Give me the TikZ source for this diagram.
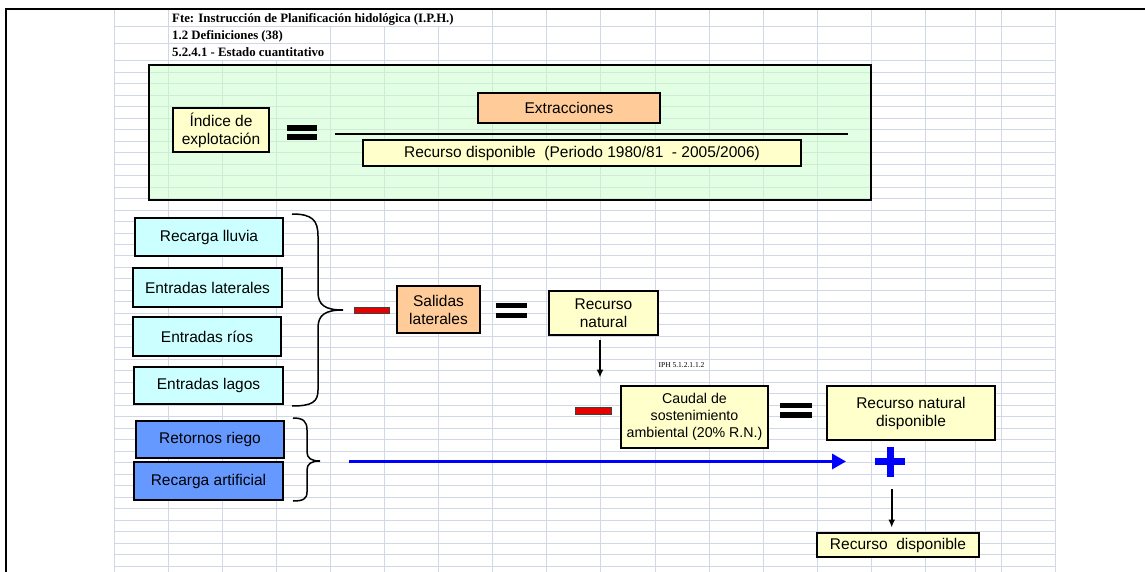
\documentclass[tikz,border=0pt]{standalone}
\usepackage{fontspec}
\setmainfont{Liberation Sans}
\newfontfamily\hdrfont{Liberation Serif}
\usetikzlibrary{arrows.meta}
\definecolor{gridc}{RGB}{208,215,229}
\definecolor{greenbg}{RGB}{204,255,204}
\definecolor{yel}{RGB}{255,255,204}
\definecolor{ora}{RGB}{255,204,153}
\definecolor{cya}{RGB}{204,255,255}
\definecolor{blu}{RGB}{102,153,255}
\definecolor{redm}{RGB}{230,0,0}
\definecolor{arrowblue}{RGB}{0,0,255}
\begin{document}
\begin{tikzpicture}[x=1pt,y=-1pt,
  gridline/.style={draw=gridc,line width=0.9pt},
  box/.style={draw=black,line width=1.6pt,inner sep=0pt,align=center,
    font=\fontsize{15.5}{18}\selectfont,text=black},
  smallbox/.style={box,font=\fontsize{14.2}{17}\selectfont},
  hdr/.style={font=\hdrfont\bfseries\fontsize{12.8}{14}\selectfont,inner sep=0pt,anchor=base west},
  eqbar/.style={fill=black},
  minusbar/.style={fill=redm,draw=black!75,line width=0.8pt},
  brace/.style={draw=black,line width=1.5pt},
  downarrow/.style={draw=black,line width=1.8pt,-{Latex[length=8pt,width=7pt]}},
  bluearrow/.style={draw=arrowblue,line width=3.3pt,-{Triangle[length=14pt,width=15pt]}},
  frame/.style={draw=black,line width=2.5pt}
]
\useasboundingbox (0,0) rectangle (1145,572);
\fill[white] (0,0) rectangle (1145,572);

% spreadsheet grid
\foreach \gx in {114.5,168.3,222.3,276.3,330.5,384.6,438.7,492.8,546.8,600.9,655,709.1,763.2,817.3,871.4,925.4,975.7,1001.7,1055.7}
  \draw[gridline] (\gx,9.3) -- (\gx,572);
\draw[gridline] (114.5,26.3) -- (1055.7,26.3);
\draw[gridline] (114.5,43.3) -- (1055.7,43.3);
\foreach \k in {0,...,44}
  \draw[gridline] (114.5,{60.7+11.485*\k}) -- (1055.7,{60.7+11.485*\k});
% overflowing header cells hide the grid lines beneath them
\fill[white] (169,10) rectangle (492.3,25.8);
\fill[white] (169,26.8) rectangle (330,42.8);
\fill[white] (169,43.8) rectangle (330,60.2);

% frame lines
\draw[frame] (5,8.8) -- (1145,8.8);
\draw[frame] (6,8.8) -- (6,572);

% header texts
\node[hdr] (h1) at (172,22.3) {Fte: Instrucción de Planificación hidológica (I.P.H.)};
\node[hdr] (h2) at (172,39.3) {1.2 Definiciones (38)};
\node[hdr] (h3) at (172,56.6) {5.2.4.1 - Estado cuantitativo};

% green formula panel
\node[draw=black,line width=1.8pt,fill=greenbg,fill opacity=0.55,draw opacity=1,
  minimum width=722pt,minimum height=135pt,inner sep=0pt] (panel) at (510,132.5) {};

\node[box,fill=yel,minimum width=96pt,minimum height=44pt] (idx) at (221,130) {Índice de\\explotación};
\fill[eqbar] (287,124.8) rectangle (317,130.6);
\fill[eqbar] (287,134.2) rectangle (317,140);
\coordinate (fracL) at (335,134);
\coordinate (fracR) at (848,134);
\draw[line width=2.6pt] (fracL) -- (fracR);
\node[box,fill=ora,minimum width=182pt,minimum height=30pt] (extr) at (569,108) {Extracciones};
\node[box,fill=yel,minimum width=438pt,minimum height=26pt] (rdp) at (582,153) {Recurso disponible\ \ (Periodo 1980/81\ \ - 2005/2006)};

% inputs
\node[box,fill=cya,minimum width=148pt,minimum height=38pt] (rl) at (209,237) {Recarga lluvia};
\node[box,fill=cya,minimum width=149pt,minimum height=39pt] (el) at (207.5,287.5) {Entradas laterales};
\node[box,fill=cya,minimum width=148pt,minimum height=39pt] (er) at (207,336.5) {Entradas ríos};
\node[box,fill=cya,minimum width=149pt,minimum height=37pt] (elg) at (208.5,385.5) {Entradas lagos};

\draw[brace] (292,214) .. controls (312,214) and (318,220) .. (318,236)
  -- (318,292) .. controls (318,305) and (325,310) .. (343,310)
  .. controls (325,310) and (318,315) .. (318,328)
  -- (318,390) .. controls (318,402) and (312,406) .. (292,406);

\draw[minusbar] (354,307) rectangle (389,313);
\node[box,fill=ora,minimum width=83pt,minimum height=47pt] (sal) at (438.5,309.5) {Salidas\\laterales};
\fill[eqbar] (496,302.7) rectangle (527,308.3);
\fill[eqbar] (496,312.7) rectangle (527,318.3);
\node[box,fill=yel,minimum width=109pt,minimum height=44pt] (rn) at (603.5,313) {Recurso\\natural};

\coordinate (a1s) at (600,340);
\coordinate (a1e) at (600,377.5);
\draw[downarrow] (a1s) -- (a1e);
\node[font=\hdrfont\fontsize{7.5}{8}\selectfont,inner sep=0pt] (iph) at (681.5,365) {IPH 5.1.2.1.1.2};

\draw[minusbar] (575,407.3) rectangle (611,414);
\node[smallbox,fill=yel,minimum width=147pt,minimum height=62pt] (caudal) at (694.5,417) {Caudal de\\sostenimiento\\ambiental (20\% R.N.)};
\fill[eqbar] (780,402.7) rectangle (812,408.3);
\fill[eqbar] (780,411.7) rectangle (812,417.7);
\node[box,fill=yel,minimum width=168pt,minimum height=54pt] (rnd) at (911,413) {Recurso natural\\disponible};

% additional inputs
\node[box,fill=blu,minimum width=148pt,minimum height=37pt] (rr) at (210,439.5) {Retornos riego};
\node[box,fill=blu,minimum width=149pt,minimum height=38pt] (ra) at (208.5,481) {Recarga artificial};

\draw[brace] (293,418) .. controls (303,418) and (307,421) .. (307,430)
  -- (307,452) .. controls (307,458) and (311,461) .. (320,461)
  .. controls (311,461) and (307,464) .. (307,470)
  -- (307,492) .. controls (307,499) and (303,501) .. (293,501);

\coordinate (bs) at (349,461.5);
\coordinate (be) at (846,461.5);
\draw[bluearrow] (bs) -- (be);

% plus sign
\fill[arrowblue] (875,458.2) rectangle (905,464.8);
\fill[arrowblue] (887.2,446.7) rectangle (894.2,476.7);

\coordinate (a2s) at (891.7,489);
\coordinate (a2e) at (891.7,527.5);
\draw[downarrow] (a2s) -- (a2e);
\node[box,fill=yel,minimum width=162pt,minimum height=24pt] (rd) at (898,545) {Recurso\ \ disponible};
\end{tikzpicture}
\end{document}
